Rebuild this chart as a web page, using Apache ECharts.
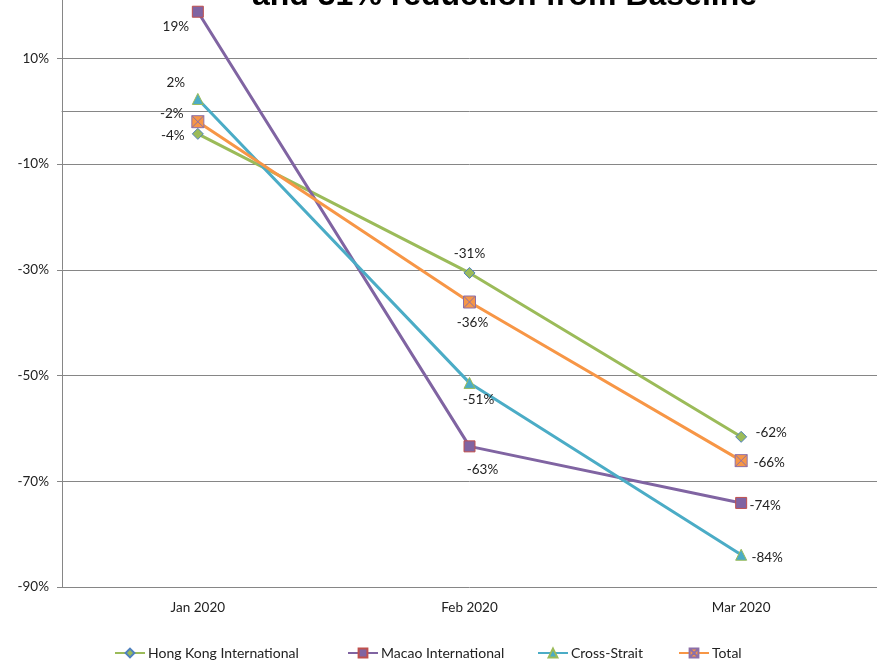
<!DOCTYPE html>
<html>
<head>
<meta charset="utf-8">
<script src="https://cdn.jsdelivr.net/npm/echarts@6/dist/echarts.min.js"></script>
<style>html,body{margin:0;padding:0;background:#fff;overflow:hidden}#wrap{width:881px;height:662px;overflow:hidden;position:relative}#c{position:absolute;left:0;top:-48px;width:881px;height:710px}</style>
</head>
<body>
<div id="wrap"><div id="c"></div></div>
<script>
// ---- data ----
var categories = ['Jan 2020', 'Feb 2020', 'Mar 2020'];
var hongKongInternational = [-4.3, -30.6, -61.6];
var macaoInternational = [18.8, -63.4, -74.1];
var crossStrait = [2.3, -51.4, -83.9];
var total = [-2.0, -36.1, -66.1];
var seriesNames = ['Hong Kong International', 'Macao International', 'Cross-Strait', 'Total'];
var titleText = 'and 31% reduction from Baseline';

// ---- styling / placement (not data) ----
var SHIFT = 48; // chart canvas starts 48px above the visible page
var labelOffsets = [
  [[-25, 2], [0, -19], [30, -4]],
  [[-22, 15], [13, 23], [24, 3]],
  [[-22, -16], [9, 17], [26, 3]],
  [[-26, -8], [3, 21], [28, 2]]
];
var lineColors = ['#9BBB59', '#8064A2', '#4BACC6', '#F79646'];
var markerBorders = ['#4F81BD', '#C0504D', '#9BBB59', '#8C6FA8'];
var symbols = ['diamond', 'rect', 'triangle', 'path://M0,0L10,0L10,10L0,10Z M0,0L10,10 M10,0L0,10'];
var symbolSizes = [11, 11, 11, 12];
var legendLefts = [114, 347, 537, 678];
var values = [hongKongInternational, macaoInternational, crossStrait, total];
var FONT = 'Lato';

function fmt(v) { return Math.round(v) + '%'; }

var series = values.map(function (vals, si) {
  return {
    name: seriesNames[si],
    type: 'line',
    symbol: symbols[si],
    symbolSize: symbolSizes[si],
    lineStyle: { width: 3, color: lineColors[si] },
    itemStyle: { color: lineColors[si], borderColor: markerBorders[si], borderWidth: 1 },
    emphasis: { disabled: true },
    animation: false,
    data: vals.map(function (v, i) {
      return {
        value: v,
        label: {
          show: true,
          position: 'inside',
          offset: labelOffsets[si][i],
          formatter: function (p) { return fmt(p.value); },
          color: '#222',
          fontSize: 13.5,
          fontFamily: FONT
        }
      };
    })
  };
});

var legends = seriesNames.map(function (n, i) {
  return {
    data: [n],
    left: legendLefts[i],
    top: 646 + SHIFT,
    padding: 0,
    itemWidth: 30,
    itemHeight: 11,
    selectedMode: false,
    textStyle: { color: '#222', fontSize: 14, fontFamily: FONT, padding: [0, 0, 0, -2] }
  };
});

var chart = echarts.init(document.getElementById('c'), null, { renderer: 'canvas' });
chart.setOption({
  backgroundColor: '#fff',
  animation: false,
  title: {
    text: titleText,
    left: 247,
    top: -25 + SHIFT,
    textStyle: { fontFamily: 'Liberation Sans', fontWeight: 'bold', fontSize: 32, color: '#000' }
  },
  legend: legends,
  grid: { left: 62, right: 4, top: -47.5 + SHIFT, bottom: 75, containLabel: false, outerBoundsMode: 'none' },
  xAxis: {
    type: 'category',
    data: categories,
    boundaryGap: true,
    axisLine: { lineStyle: { color: '#868686', width: 1 } },
    axisTick: { show: false },
    axisLabel: { color: '#222', fontSize: 13.5, fontFamily: FONT, margin: 14 }
  },
  yAxis: {
    type: 'value',
    min: -90,
    max: 30,
    interval: 20,
    axisLine: { show: true, lineStyle: { color: '#868686', width: 1 } },
    axisTick: { show: true, length: 5, lineStyle: { color: '#868686' } },
    splitLine: { show: true, lineStyle: { color: '#868686', width: 1 } },
    axisLabel: { color: '#222', fontSize: 13.5, fontFamily: FONT, margin: 13, formatter: function (v) { return v + '%'; } }
  },
  series: series
});
</script>
</body>
</html>
